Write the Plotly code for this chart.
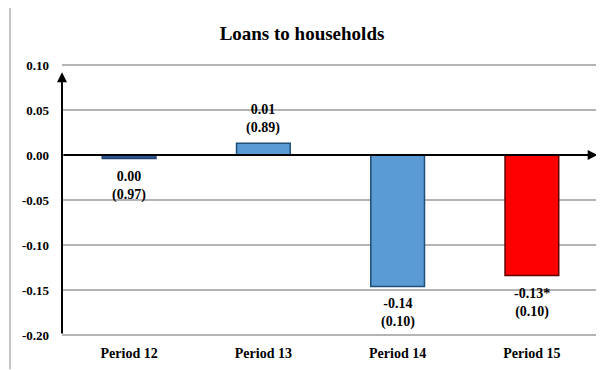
import plotly.graph_objects as go

categories = ["Period 12", "Period 13", "Period 14", "Period 15"]
values = [-0.004, 0.013, -0.146, -0.134]
coef_labels = ["0.00", "0.01", "-0.14", "-0.13*"]
pval_labels = ["(0.97)", "(0.89)", "(0.10)", "(0.10)"]
bar_colors = ["#2F5A8F", "#5B9BD5", "#5B9BD5", "#FF0000"]
line_colors = ["#1F3F73", "#1F4E79", "#1F4E79", "#600000"]
y_ticks = [0.10, 0.05, 0.00, -0.05, -0.10, -0.15, -0.20]

FONT = "Liberation Serif"
Y_MIN, Y_MAX = -0.20, 0.10

# page body has an 8px margin: figure is placed at (8, 8)
OFF = 8
W, H = 604 - OFF, 370 - OFF
PX0, PX1, PY0, PY1 = 62, 599, 64.5, 335.5
L, R = PX0 - OFF, 604 - PX1
T, B = PY0 - OFF, 370 - PY1
pw, ph = W - L - R, H - T - B

def px_x(p):
    return (p - PX0) / pw

def px_y(p):
    return (PY1 - p) / ph

fig = go.Figure()
fig.add_trace(go.Bar(
    x=categories, y=values,
    marker=dict(color=bar_colors, line=dict(color=line_colors, width=1.5)),
    width=0.4, hoverinfo="skip",
))

annotations = []
for c, v, a, b in zip(categories, values, coef_labels, pval_labels):
    pos = v > 0
    annotations.append(dict(
        x=c, y=v, xref="x", yref="y", text=f"{a}<br>{b}", showarrow=False,
        yanchor="bottom" if pos else "top", yshift=5 if pos else -8,
        font=dict(family=FONT, size=14, color="black", weight="bold"),
    ))
# axis arrows
annotations.append(dict(x=-0.5, y=0.092, ax=-0.5, ay=Y_MIN, xref="x", yref="y",
                        axref="x", ayref="y", text="", showarrow=True,
                        arrowhead=2, arrowsize=1, arrowwidth=2, arrowcolor="black"))
annotations.append(dict(x=3.49, y=0.0, ax=-0.5, ay=0.0, xref="x", yref="y",
                        axref="x", ayref="y", text="", showarrow=True,
                        arrowhead=2, arrowsize=1, arrowwidth=2, arrowcolor="black"))

# horizontal gridlines (including the range edges)
shapes = []
for t in y_ticks:
    yp = (t - Y_MIN) / (Y_MAX - Y_MIN)
    shapes.append(dict(type="line", xref="x", yref="paper", x0=-0.5, x1=3.5,
                       y0=yp, y1=yp, layer="below",
                       line=dict(color="#B4B4B4", width=2)))
# outer frame (top and left edges)
shapes.append(dict(type="line", xref="paper", yref="paper",
                   x0=px_x(9.5), x1=px_x(604), y0=px_y(6), y1=px_y(6),
                   line=dict(color="#C4C4C4", width=2)))
shapes.append(dict(type="line", xref="paper", yref="paper",
                   x0=px_x(10), x1=px_x(10), y0=px_y(6), y1=px_y(370),
                   line=dict(color="#C4C4C4", width=2)))

fig.update_layout(
    width=W, height=H,
    margin=dict(l=L, r=R, t=T, b=B, autoexpand=False),
    paper_bgcolor="white", plot_bgcolor="white",
    showlegend=False,
    title=dict(text="Loans to households", x=px_x(302), xref="paper", xanchor="center",
               y=1 - (33 - OFF) / H, yanchor="middle",
               font=dict(family=FONT, size=19, color="black", weight="bold")),
    xaxis=dict(range=[-0.5, 3.5], showgrid=False, showline=False, zeroline=False,
               ticks="", ticklabelstandoff=8,
               tickfont=dict(family=FONT, size=14, color="black", weight="bold"),
               fixedrange=True),
    yaxis=dict(range=[Y_MIN, Y_MAX], tickmode="array", tickvals=y_ticks,
               ticktext=[f"{t:.2f}" for t in y_ticks],
               showgrid=False, zeroline=False, showline=False, ticks="",
               ticklabelstandoff=12,
               tickfont=dict(family=FONT, size=13, color="black", weight="bold"),
               fixedrange=True),
    annotations=annotations,
    shapes=shapes,
)

fig.write_html("out.html")
